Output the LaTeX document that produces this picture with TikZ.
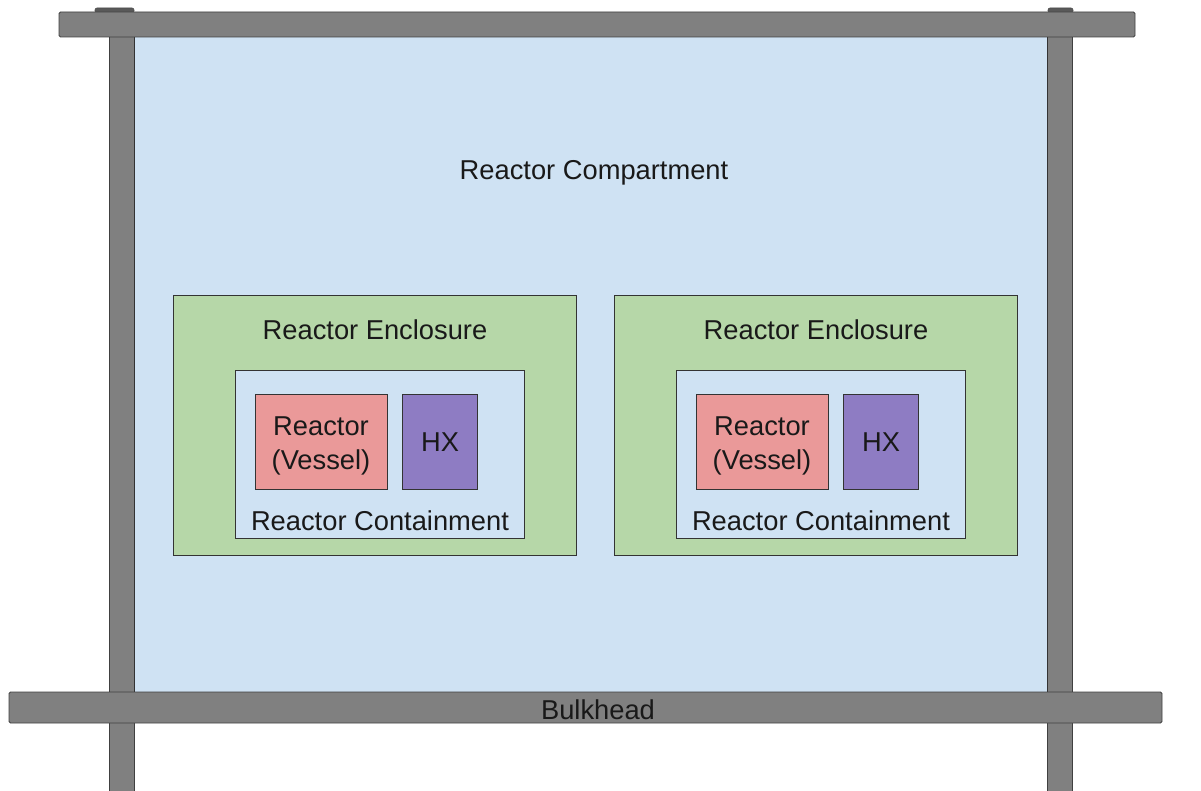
\documentclass[tikz,border=0pt]{standalone}
\usepackage{fontspec}
\setmainfont{Liberation Sans}
\begin{document}
\begin{tikzpicture}[x=1pt,y=-1pt,
  every node/.style={inner sep=0pt, outer sep=0pt},
  lbl/.style={font=\fontsize{27.3pt}{31pt}\selectfont, align=center, text=black!90},
  steel/.style={fill=steelgray, draw=black!75, line width=0.9pt},
  box/.style={draw=black!80, line width=1pt, anchor=north west},
  tab/.style={fill=black!65, draw=black!70, line width=0.6pt, rounded corners=2pt}]
\definecolor{steelgray}{HTML}{808080}
\definecolor{compblue}{HTML}{CFE2F3}
\definecolor{encgreen}{HTML}{B6D7A8}
\definecolor{vesselred}{HTML}{EA9999}
\definecolor{hxpurple}{HTML}{8E7CC3}
\useasboundingbox (0,0) rectangle (1201,791);

% vertical posts
\draw[steel] (109,30) rectangle (134,795);
\draw[steel] (1047,30) rectangle (1072,795);

% compartment space between the posts
\node[box, fill=compblue, minimum width=913pt, minimum height=655pt] (comp) at (134,37) {};
\node[lbl] (compl) at (594,173) {Reactor Compartment};

% top beam with its small fittings
\draw[tab] (95,13) rectangle (134,8);
\draw[tab] (1048,13) rectangle (1073,8);
\node[steel, rounded corners=1.5pt, anchor=north west, minimum width=1076pt, minimum height=25pt] (top) at (59,12) {};

% bulkhead beam
\node[steel, rounded corners=1.5pt, anchor=north west, minimum width=1153pt, minimum height=31pt] (bulk) at (9,692) {};
\node[lbl] (bulkl) at (598,710) {Bulkhead};

% two reactor enclosures
\foreach \dx/\s in {0/a, 441/b} {
  \begin{scope}[xshift=\dx]
    \node[box, fill=encgreen, minimum width=403pt, minimum height=259pt] (enc\s) at (173,296) {};
    \node[lbl] (encl\s) at (375,330) {Reactor Enclosure};
    \node[box, fill=compblue, minimum width=289pt, minimum height=168pt] (cont\s) at (235,370) {};
    \node[lbl] (contl\s) at (380,521) {Reactor Containment};
    \node[box, fill=vesselred, minimum width=132pt, minimum height=95pt] (ves\s) at (255,394) {};
    \node[lbl, font=\fontsize{27.3pt}{34pt}\selectfont] (vesl\s) at (321,446) {Reactor\\(Vessel)};
    \node[box, fill=hxpurple, minimum width=75pt, minimum height=95pt] (hx\s) at (402,394) {};
    \node[lbl] (hxl\s) at (440,442) {HX};
  \end{scope}
}
\end{tikzpicture}
\end{document}
